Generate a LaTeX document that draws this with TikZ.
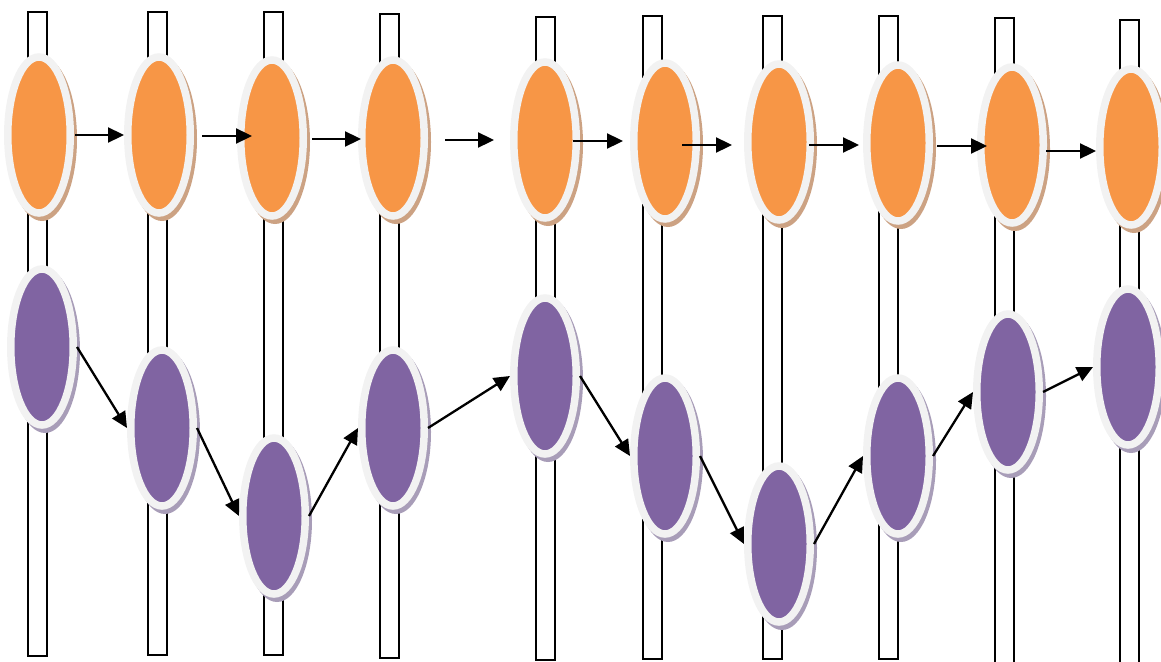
\documentclass[tikz,border=0pt]{standalone}
\usetikzlibrary{arrows.meta,shapes.geometric}
\definecolor{accOrange}{HTML}{F79646}
\definecolor{accPurple}{HTML}{8064A2}
\definecolor{rim}{HTML}{F2F2F2}
\definecolor{hotShade}{HTML}{CCA283}
\definecolor{coolShade}{HTML}{A89DB8}
\begin{document}
\begin{tikzpicture}[x=1pt,y=-1pt,
  rail/.style={draw=black,line width=1.3pt,fill=white},
  bead/.style={ellipse,draw=rim,line width=7.5pt,minimum width=62.5pt,
    minimum height=156pt,inner sep=0pt},
  hot/.style={bead,fill=accOrange},
  cool/.style={bead,fill=accPurple},
  link/.style={line width=2.3pt,-{Triangle[length=16pt,width=15pt]}}]
\useasboundingbox (0,0) rectangle (1161,661);

% vertical rails: left/right/top/bottom
\foreach \l/\r/\t/\b in {28/47/12/656,148/167/12/655,264/283/12/655,
  380/399/14/658,536/555/17/660,643/662/16/659,763/782/16/659,
  879/898/16/659,995/1014/18/663,1120/1139/20/663}
  \draw[rail] (\l,\t) rectangle (\r,\b);

% upper row of beads
\foreach \n/\x/\y in {1/39/135,2/159/135,3/272/138,4/393/138,5/545/140,
  6/665/141,7/779/142,8/898/143,9/1012/145,10/1131/147}{
  \fill[hotShade] (\x+3,\y+4) ellipse [x radius=35pt,y radius=82pt];
  \node[hot] (o\n) at (\x,\y) {};
}

% lower row of beads
\foreach \n/\x/\y in {1/42/347,2/162/428,3/274/516,4/393/428,5/545/376,
  6/665/456,7/779/544,8/898/456,9/1008/392,10/1128/367}{
  \fill[coolShade] (\x+3,\y+4) ellipse [x radius=35pt,y radius=82pt];
  \node[cool] (p\n) at (\x,\y) {};
}

% upper chain
\draw[link] ([xshift=1]o1.east) -- (o2.west);
\draw[link] ([xshift=8,yshift=-1]o2.east) -- ([xshift=15,yshift=2]o3.west);
\draw[link] ([xshift=5,yshift=-1]o3.east) -- ([xshift=3,yshift=-1]o4.west);
\draw[link] ([xshift=17,yshift=-2]o4.east) -- ([xshift=-16]o5.west);
\draw[link] ([xshift=-7,yshift=-1]o5.east) -- ([xshift=-7]o6.west);
\draw[link] ([xshift=-18,yshift=-4]o6.east) -- ([xshift=-12,yshift=-3]o7.west);
\draw[link] ([xshift=-5,yshift=-3]o7.east) -- ([xshift=-4,yshift=-2]o8.west);
\draw[link] ([xshift=4,yshift=-3]o8.east) -- ([xshift=10,yshift=-1]o9.west);
\draw[link] ([xshift=-1,yshift=-6]o9.east) -- ([yshift=-4]o10.west);

% lower chain
\foreach \a/\b in {1/2,2/3,3/4,4/5,5/6,6/7,7/8,8/9,9/10}
  \draw[link] (p\a.east) -- (p\b.west);
\end{tikzpicture}
\end{document}
